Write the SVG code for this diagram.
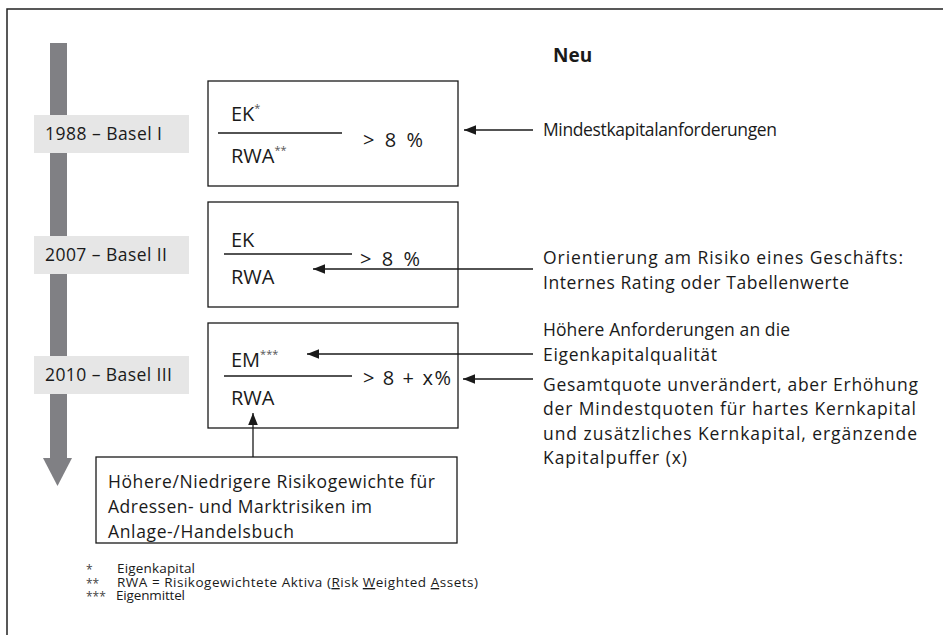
<svg xmlns="http://www.w3.org/2000/svg" width="943" height="635" viewBox="0 0 943 635">
  <style>
    text { font-family: "Open Sans", "Noto Sans", "DejaVu Sans", sans-serif; fill: #1a1a1a; }
    .t { font-size: 17.5px; }
    .f { font-size: 20px; }
    .lab { font-size: 17.5px; }
    .sup { font-size: 11px; fill: #555; }
    .fn { font-size: 13.5px; }
    .star { font-size: 12px; fill: #444; }
    .box { fill: #fff; stroke: #1a1a1a; stroke-width: 1.3; }
    .tag { fill: #e6e6e6; }
    .ln { stroke: #1a1a1a; stroke-width: 1.3; fill: none; }
  </style>
  <defs>
    <marker id="ah" viewBox="0 0 10 10" refX="10" refY="5" markerWidth="12" markerHeight="12" markerUnits="userSpaceOnUse" orient="auto">
      <path d="M0,1 L10,5 L0,9 Z" fill="#1a1a1a"/>
    </marker>
  </defs>

  <rect width="943" height="635" fill="#fff"/>
  <!-- outer frame (runs off the right and bottom) -->
  <path d="M7,640 V9 H950" fill="none" stroke="#222" stroke-width="1.5"/>

  <!-- timeline arrow -->
  <g id="timeline">
    <rect x="50" y="43" width="17" height="416" fill="#808084"/>
    <polygon points="43,458 72,458 57.5,486" fill="#808084"/>
  </g>

  <g id="label-basel1">
    <rect class="tag" x="34" y="115" width="155" height="38"/>
    <text class="lab" x="45" y="140" textLength="117">1988 – Basel I</text>
  </g>
  <g id="label-basel2">
    <rect class="tag" x="34" y="236" width="155" height="38"/>
    <text class="lab" x="45" y="261" textLength="122">2007 – Basel II</text>
  </g>
  <g id="label-basel3">
    <rect class="tag" x="34" y="356" width="155" height="38"/>
    <text class="lab" x="45" y="381" textLength="127">2010 – Basel III</text>
  </g>

  <g id="heading">
    <text x="553" y="62" font-size="19" font-weight="bold">Neu</text>
  </g>

  <!-- ratio boxes -->
  <g id="ratio-basel1">
    <rect class="box" x="208" y="81" width="250" height="105"/>
    <line class="ln" x1="218" y1="133" x2="342" y2="133"/>
    <text class="f" x="231" y="121">EK<tspan class="sup" dy="-9">*</tspan></text>
    <text class="f" x="231" y="163">RWA<tspan class="sup" dy="-9">**</tspan></text>
    <text class="f" x="363" y="147" textLength="60">&gt; 8 %</text>
  </g>
  <g id="ratio-basel2">
    <rect class="box" x="208" y="202" width="250" height="105"/>
    <line class="ln" x1="224" y1="254" x2="352" y2="254"/>
    <text class="f" x="231" y="247">EK</text>
    <text class="f" x="231" y="284">RWA</text>
    <text class="f" x="360" y="266" textLength="60">&gt; 8 %</text>
  </g>
  <g id="ratio-basel3">
    <rect class="box" x="208" y="323" width="250" height="105"/>
    <line class="ln" x1="224" y1="376" x2="352" y2="376"/>
    <text class="f" x="231" y="367">EM<tspan class="sup" dy="-9">***</tspan></text>
    <text class="f" x="231" y="405">RWA</text>
    <text class="f" x="363" y="385" textLength="88">&gt; 8 + x%</text>
  </g>

  <g id="risk-weights">
    <rect class="box" x="96" y="457" width="361" height="86"/>
    <text class="t" x="108" y="488" textLength="327">Höhere/Niedrigere Risikogewichte für</text>
    <text class="t" x="108" y="513" textLength="264">Adressen- und Marktrisiken im</text>
    <text class="t" x="108" y="538" textLength="186">Anlage-/Handelsbuch</text>
  </g>

  <!-- notes on the right -->
  <g id="note-minimum">
    <text class="t" x="543" y="136" textLength="234">Mindestkapitalanforderungen</text>
  </g>
  <g id="note-risk">
    <text class="t" x="543" y="264" textLength="360">Orientierung am Risiko eines Geschäfts:</text>
    <text class="t" x="543" y="289" textLength="306">Internes Rating oder Tabellenwerte</text>
  </g>
  <g id="note-quality">
    <text class="t" x="543" y="336" textLength="247">Höhere Anforderungen an die</text>
    <text class="t" x="543" y="361" textLength="174">Eigenkapitalqualität</text>
  </g>
  <g id="note-buffer">
    <text class="t" x="543" y="391" textLength="375">Gesamtquote unverändert, aber Erhöhung</text>
    <text class="t" x="543" y="415" textLength="373">der Mindestquoten für hartes Kernkapital</text>
    <text class="t" x="543" y="440" textLength="374">und zusätzliches Kernkapital, ergänzende</text>
    <text class="t" x="543" y="464" textLength="144">Kapitalpuffer (x)</text>
  </g>

  <!-- connectors -->
  <g id="connectors">
    <line class="ln" x1="533" y1="130" x2="464" y2="130" marker-end="url(#ah)"/>
    <line class="ln" x1="533" y1="269" x2="313" y2="269" marker-end="url(#ah)"/>
    <line class="ln" x1="533" y1="354" x2="307" y2="354" marker-end="url(#ah)"/>
    <line class="ln" x1="533" y1="379" x2="463" y2="379" marker-end="url(#ah)"/>
    <line class="ln" x1="253" y1="457" x2="253" y2="413" marker-end="url(#ah)"/>
  </g>

  <!-- footnotes -->
  <g id="footnotes">
    <text class="star" x="86" y="574">*</text>
    <text class="fn" x="117" y="573" textLength="78">Eigenkapital</text>
    <text class="star" x="86" y="588">**</text>
    <text class="fn" x="117" y="587" textLength="361">RWA = Risikogewichtete Aktiva (<tspan text-decoration="underline">R</tspan>isk <tspan text-decoration="underline">W</tspan>eighted <tspan text-decoration="underline">A</tspan>ssets)</text>
    <text class="star" x="86" y="601">***</text>
    <text class="fn" x="116" y="600" textLength="69">Eigenmittel</text>
  </g>
</svg>
